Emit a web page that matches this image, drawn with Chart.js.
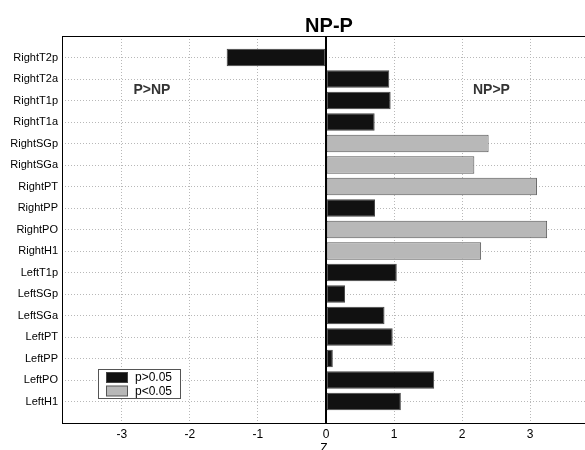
<!DOCTYPE html>
<html>
<head>
<meta charset="utf-8">
<script src="https://cdn.jsdelivr.net/npm/chart.js"></script>
<style>
  html, body { margin: 0; padding: 0; background: #fff; overflow: hidden; }
  #wrap { width: 590px; height: 450px; }
</style>
</head>
<body>
<div id="wrap"><canvas id="chart" width="590" height="450"></canvas></div>
<script>
  // rows from top to bottom (blank rows pad the axis like the original)
  const regions = [
    "", "RightT2p", "RightT2a", "RightT1p", "RightT1a", "RightSGp", "RightSGa",
    "RightPT", "RightPP", "RightPO", "RightH1", "LeftT1p", "LeftSGp",
    "LeftSGa", "LeftPT", "LeftPP", "LeftPO", "LeftH1", ""
  ];
  // z values, NP-P
  const zValues = [
    null, -1.46, 0.93, 0.95, 0.715, 2.39, 2.18,
    3.10, 0.72, 3.25, 2.28, 1.04, 0.28,
    0.86, 0.98, 0.10, 1.59, 1.10, null
  ];
  // true when p<0.05
  const significant = [
    false, false, false, false, false, true, true,
    true, false, true, true, false, false,
    false, false, false, false, false, false
  ];
  const xTicks = [-3, -2, -1, 0, 1, 2, 3];

  const notSig = zValues.map((v, i) => (v !== null && !significant[i] ? v : null));
  const sig = zValues.map((v, i) => (v !== null && significant[i] ? v : null));

  const decor = {
    id: "decor",
    afterDatasetsDraw(chart) {
      const { ctx, chartArea: a, scales } = chart;
      const x = scales.x, y = scales.y;
      ctx.save();
      // axes box
      ctx.strokeStyle = "#000";
      ctx.lineWidth = 1;
      ctx.strokeRect(a.left + 0.5, a.top + 0.5, a.right - a.left, a.bottom - a.top);
      // zero line
      const x0 = Math.round(x.getPixelForValue(0));
      ctx.lineWidth = 2;
      ctx.beginPath();
      ctx.moveTo(x0, a.top);
      ctx.lineTo(x0, a.bottom);
      ctx.stroke();

      // region notes
      ctx.fillStyle = "#333";
      ctx.font = "bold 14px 'Liberation Sans', Arial, sans-serif";
      ctx.textBaseline = "middle";
      ctx.textAlign = "left";
      const yNote = (y.getPixelForValue(2) + y.getPixelForValue(3)) / 2;
      ctx.fillText("P>NP", x.getPixelForValue(-2.83), yNote);
      ctx.fillText("NP>P", x.getPixelForValue(2.16), yNote);

      // title
      ctx.fillStyle = "#000";
      ctx.font = "bold 20px 'Liberation Sans', Arial, sans-serif";
      ctx.textAlign = "center";
      ctx.textBaseline = "alphabetic";
      ctx.fillText("NP-P", 329, 31.5);

      // x label (cut by the bottom edge)
      ctx.font = "12px 'Liberation Sans', Arial, sans-serif";
      ctx.textBaseline = "top";
      ctx.fillText("Z", 324, 443);

      // legend
      const lx = 98.5, ly = 369.5;
      ctx.fillStyle = "#fff";
      ctx.fillRect(lx, ly, 82, 29);
      ctx.strokeStyle = "#555";
      ctx.lineWidth = 1;
      ctx.strokeRect(lx, ly, 82, 29);
      chart.data.datasets.forEach((ds, i) => {
        const sy = 372.5 + i * 13.5;
        ctx.fillStyle = ds.backgroundColor;
        ctx.fillRect(106.5, sy, 21, 10);
        ctx.strokeStyle = ds.borderColor;
        ctx.strokeRect(106.5, sy, 21, 10);
        ctx.fillStyle = "#000";
        ctx.font = "12px 'Liberation Sans', Arial, sans-serif";
        ctx.textAlign = "left";
        ctx.textBaseline = "middle";
        ctx.fillText(ds.label, 135, sy + 5.5);
      });
      ctx.restore();
    }
  };

  new Chart(document.getElementById("chart"), {
    type: "bar",
    data: {
      labels: regions,
      datasets: [
        {
          label: "p>0.05",
          data: notSig,
          backgroundColor: "#111111",
          borderColor: "#444444",
          borderWidth: 1,
          borderSkipped: false
        },
        {
          label: "p<0.05",
          data: sig,
          backgroundColor: "#b8b8b8",
          borderColor: "#555555",
          borderWidth: 1,
          borderSkipped: false
        }
      ]
    },
    options: {
      indexAxis: "y",
      responsive: false,
      animation: false,
      layout: { padding: { top: 36, right: 0, left: 0, bottom: 0 } },
      datasets: { bar: { barPercentage: 0.82, categoryPercentage: 1 } },
      plugins: {
        legend: { display: false },
        title: { display: false },
        tooltip: { enabled: false }
      },
      scales: {
        x: {
          min: -3.88,
          max: 3.88,
          afterBuildTicks: (scale) => {
            scale.ticks = xTicks.map((v) => ({ value: v }));
          },
          afterFit: (scale) => { scale.height = 27; },
          grid: {
            color: (c) => (c.tick && c.tick.value === 0 ? "rgba(0,0,0,0)" : "#b8b8b8"),
            lineWidth: 1,
            drawTicks: false
          },
          border: { display: false, dash: [1, 2] },
          ticks: {
            color: "#000",
            padding: 4,
            font: { family: "'Liberation Sans', Arial, sans-serif", size: 12 },
            maxRotation: 0
          }
        },
        y: {
          stacked: true,
          offset: false,
          afterFit: (scale) => { scale.width = 62; },
          grid: {
            offset: false,
            color: (c) => (c.index === 0 || c.index === regions.length - 1 ? "rgba(0,0,0,0)" : "#b8b8b8"),
            lineWidth: 1,
            drawTicks: false
          },
          border: { display: false, dash: [1, 2] },
          ticks: {
            color: "#000",
            padding: 4,
            autoSkip: false,
            font: { family: "'Liberation Sans', Arial, sans-serif", size: 11 }
          }
        }
      }
    },
    plugins: [decor]
  });
</script>
</body>
</html>
